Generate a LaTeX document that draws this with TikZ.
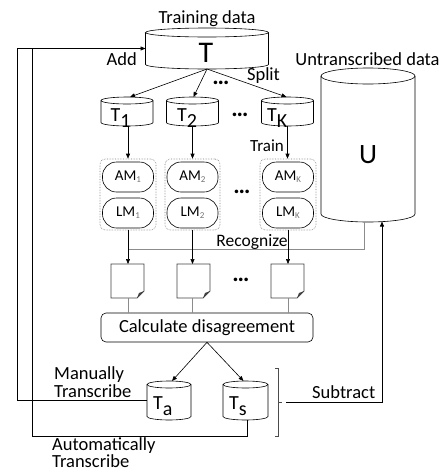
\documentclass[tikz,border=0pt]{standalone}
\usepackage{fontspec}
\setmainfont{Carlito}
\usetikzlibrary{arrows.meta,calc}
\newcommand\cylDraw[3]{%
  \draw[cylline] ([yshift=-#3]#1.north west) -- ([yshift=#3]#1.south west)
    arc[start angle=180,end angle=360,x radius=#2,y radius=#3] -- ([yshift=-#3]#1.north east);
  \draw[cylline] ([yshift=-#3]#1.north) ellipse[x radius=#2,y radius=#3];}
\newcommand\docDraw[1]{%
  \draw[docline] (#1.north west) -- (#1.north east) -- ([yshift=7pt]#1.south east)
    -- ([xshift=-7pt]#1.south east) -- (#1.south west) -- cycle;
  \fill[black!75] ([yshift=7pt]#1.south east) -- ([xshift=-5pt,yshift=5pt]#1.south east)
    -- ([xshift=-7pt]#1.south east) -- cycle;}
\newcommand\fs[1]{\fontsize{#1}{#1}\selectfont}
\tikzset{
  cylbox/.style={rectangle,inner sep=0pt,outer sep=0pt},
  cylline/.style={draw=black,line width=0.6pt},
  docline/.style={draw=black!75,line width=0.7pt},
  conn/.style={draw=black,line width=0.6pt},
  gline/.style={draw=black!45,line width=0.8pt},
  arr/.style={conn,-{Triangle[length=5pt,width=4pt]}},
  grp/.style={draw=black!50,densely dotted,line width=0.6pt,rounded corners=5pt,
    minimum width=56pt,minimum height=71pt,inner sep=0pt},
  pill/.style={draw=black,line width=0.6pt,rounded corners=14pt,minimum width=51pt,
    minimum height=30pt,inner sep=0pt,font=\fs{15}},
  lbl/.style={inner sep=0pt,font=\fs{18.5}},
  dots/.style={inner sep=0pt,font=\fs{24}\bfseries},
}
\newcommand\gsub[1]{\raisebox{-2pt}{\color{black!55}\fs{9}#1}}
\newcommand\tsub[1]{\raisebox{-6.5pt}{#1}}
\begin{document}
\begin{tikzpicture}[x=1pt,y=-1pt]
\useasboundingbox (0,0) rectangle (446,472);
% cylinders (bounding nodes)
\node[cylbox,minimum width=123pt,minimum height=41pt] (T) at (207,48.5) {};
\node[cylbox,minimum width=52pt,minimum height=29pt] (T1) at (127,111.5) {};
\node[cylbox,minimum width=52pt,minimum height=29pt] (T2) at (192.5,111.5) {};
\node[cylbox,minimum width=52pt,minimum height=29pt] (TK) at (287.5,111.5) {};
\node[cylbox,minimum width=94pt,minimum height=154pt] (U) at (368,145) {};
\node[cylbox,minimum width=44pt,minimum height=39pt] (Ta) at (169,400.5) {};
\node[cylbox,minimum width=45pt,minimum height=39pt] (Ts) at (245.5,400.5) {};
\cylDraw{T}{61.5pt}{4.5pt}
\cylDraw{T1}{26pt}{3.5pt}
\cylDraw{T2}{26pt}{3.5pt}
\cylDraw{TK}{26pt}{3.5pt}
\cylDraw{U}{47pt}{8pt}
\cylDraw{Ta}{22pt}{3.5pt}
\cylDraw{Ts}{22.5pt}{3.5pt}
% texts of cylinders
\node[lbl,anchor=base] (trainlbl) at (207,23) {Training data};
\node[inner sep=0pt,anchor=base,font=\fs{30}] (Tlbl) at (206,62) {T};
\node[inner sep=0pt,anchor=base,font=\fs{28}] (Ulbl) at (368,163) {U};
\node[lbl,anchor=base] (ulbl) at (367.5,65) {Untranscribed data};
\node[inner sep=0pt,anchor=base west,font=\fs{20}] (T1lbl) at (110.5,121) {T\tsub{1}};
\node[inner sep=0pt,anchor=base west,font=\fs{20}] (T2lbl) at (177,121) {T\tsub{2}};
\node[inner sep=0pt,anchor=base west,font=\fs{20}] (TKlbl) at (267,121) {T\tsub{K}};
\node[inner sep=0pt,anchor=base west,font=\fs{20}] (Talbl) at (153,409) {T\tsub{a}};
\node[inner sep=0pt,anchor=base west,font=\fs{20}] (Tslbl) at (229,409) {T\tsub{s}};
% groups of models
\node[grp] (G1) at (128,194.5) {};
\node[grp,minimum width=55pt] (G2) at (192.5,194.5) {};
\node[grp] (GK) at (288,194.5) {};
\node[pill] (AM1) at (128,177) {AM\gsub{1}};
\node[pill] (LM1) at (128,213) {LM\gsub{1}};
\node[pill] (AM2) at (192.5,177) {AM\gsub{2}};
\node[pill] (LM2) at (192.5,213) {LM\gsub{2}};
\node[pill] (AMK) at (288,177) {AM\gsub{K}};
\node[pill] (LMK) at (288,213) {LM\gsub{K}};
% documents
\node[cylbox,minimum width=33pt,minimum height=34pt] (D1) at (127.5,281) {};
\node[cylbox,minimum width=33pt,minimum height=34pt] (D2) at (193.5,281) {};
\node[cylbox,minimum width=33pt,minimum height=34pt] (DK) at (287.5,281) {};
\docDraw{D1}
\docDraw{D2}
\docDraw{DK}
% calculate box
\node[draw=black,line width=0.6pt,rounded corners=5pt,minimum width=212pt,minimum height=29pt,
  inner sep=0pt,font=\fs{18.5}] (C) at (207,327.5) {Calculate disagreement};
% dots
\node[dots] (dt1) at (221,83) {…};
\node[dots] (dt2) at (240,115) {…};
\node[dots] (dt3) at (242,192) {…};
\node[dots] (dt4) at (241,280) {…};
% labels
\node[lbl,anchor=base east] (addl) at (137,65) {Add};
\node[lbl,anchor=base] (splitl) at (263.5,80) {Split};
\node[inner sep=0pt,anchor=base,font=\fs{17}] (trainl) at (267,151) {Train};
\node[inner sep=0pt,anchor=base,font=\fs{17.5}] (recl) at (252,246) {Recognize};
\node[lbl,anchor=base west] (man1) at (54,379) {Manually};
\node[lbl,anchor=base west] (man2) at (54,397) {Transcribe};
\node[lbl,anchor=base west] (aut1) at (52,450.5) {Automatically};
\node[lbl,anchor=base west] (aut2) at (52,467.5) {Transcribe};
\node[lbl,anchor=base west] (subl) at (312,398) {Subtract};
% coordinates
\coordinate (xo) at (17,0);
\coordinate (xi) at (32,0);
\coordinate (ybot) at (0,436);
\coordinate (rec) at (128,249);
\coordinate (urec) at (364,222);
\coordinate (btip) at (286,402);
\coordinate (uin) at (382,221.5);
% split arrows
\draw[arr] (T.south) -- ([xshift=3pt]T1.north);
\draw[arr] (T.south) -- ([xshift=1pt]T2.north);
\draw[arr] (T.south) -- ([xshift=-1pt]TK.north);
% train arrows
\draw[arr] ([xshift=1pt]T1.south) -- ([xshift=1pt]T1.south |- G1.north);
\draw[arr] (T2.south) -- (T2.south |- G2.north);
\draw[arr] (TK.south) -- (TK.south |- GK.north);
% recognize
\draw[gline] (urec) -- (urec |- rec) -- (rec);
\draw[arr] (G1.south) -- (G1.south |- D1.north);
\draw[arr] (G2.south) -- (G2.south |- D2.north);
\draw[arr] (GK.south) -- (GK.south |- DK.north);
% docs to calc
\draw[gline] (G1.south |- D1.south) -- (G1.south |- C.north);
\draw[gline] (G2.south |- D2.south) -- (G2.south |- C.north);
\draw[gline] (GK.south |- DK.south) -- (GK.south |- C.north);
% calc to Ta Ts
\draw[arr] (C.south) -- ([xshift=3pt]Ta.north);
\draw[arr] (C.south) -- ([xshift=-2pt]Ts.north);
% loops
\draw[arr] (Ta.west) -| (xo |- T.west) -- (T.west);
\draw[conn] ([xshift=1.5pt]Ts.south) -- ([xshift=1.5pt]Ts.south |- ybot) -| (xi |- T.west);
% brace
\draw[conn,black!70] (275,368) -- (278,368) -- (278,436) -- (275,436);
\draw[conn,black!70] (278,402) -- (282,402);
\draw[arr] (btip) -| (uin);
\end{tikzpicture}
\end{document}
